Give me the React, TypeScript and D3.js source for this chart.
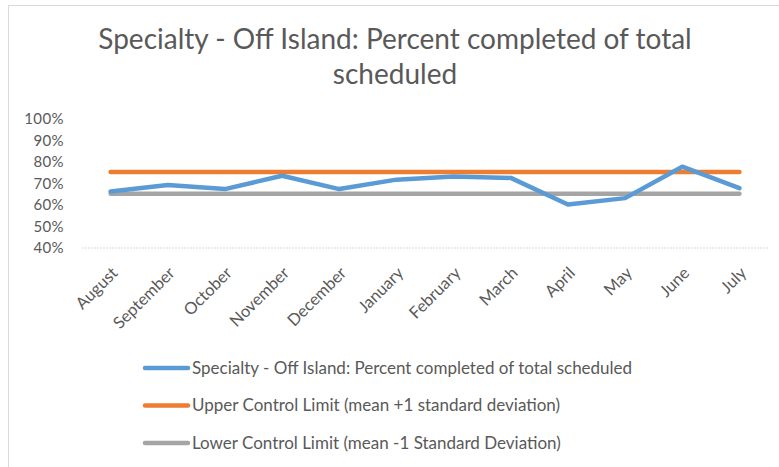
import React from 'react';
import * as d3 from 'd3';

const months = ['August', 'September', 'October', 'November', 'December', 'January', 'February', 'March', 'April', 'May', 'June', 'July'];
const completed = [66.3, 69.3, 67.4, 73.6, 67.4, 71.8, 73.2, 72.6, 60.2, 63.2, 77.8, 67.8];
const upperLimit = [75.3, 75.3, 75.3, 75.3, 75.3, 75.3, 75.3, 75.3, 75.3, 75.3, 75.3, 75.3];
const lowerLimit = [65.2, 65.2, 65.2, 65.2, 65.2, 65.2, 65.2, 65.2, 65.2, 65.2, 65.2, 65.2];
const yTicks = [40, 50, 60, 70, 80, 90, 100];
const seriesNames = [
  'Specialty - Off Island: Percent completed of total scheduled',
  'Upper Control Limit (mean +1 standard deviation)',
  'Lower Control Limit (mean -1 Standard Deviation)',
];

const App = () => {
  const width = 779;
  const height = 467;
  const font = 'Lato, "Open Sans", sans-serif';
  const textGrey = '#595959';
  const blue = '#5B9BD5';
  const orange = '#ED7D31';
  const grey = '#A5A5A5';
  const margin = { top: 119, right: 11, bottom: 219, left: 82 };

  const xScale = d3
    .scaleBand()
    .domain(months)
    .range([margin.left, width - margin.right]);

  const yScale = d3
    .scaleLinear()
    .domain([40, 100])
    .range([height - margin.bottom, margin.top]);

  const line = d3
    .line<number>()
    .x((d, i) => (xScale(months[i]) as number) + xScale.bandwidth() / 2)
    .y(d => yScale(d));

  const series = [
    { values: completed, color: blue },
    { values: upperLimit, color: orange },
    { values: lowerLimit, color: grey },
  ];

  return (
    <svg width={width} height={height} style={{ position: 'absolute', left: 0, top: 0 }}>
      <rect x={8.5} y={5.5} width={width} height={height} fill='#fff' stroke='#d9d9d9' />
      <text x={395} y={49} textAnchor='middle' fontFamily={font} fontSize={28} fill={textGrey}>
        Specialty - Off Island: Percent completed of total
      </text>
      <text x={395} y={84} textAnchor='middle' fontFamily={font} fontSize={28} fill={textGrey}>
        scheduled
      </text>

      <line
        x1={margin.left}
        x2={width - margin.right}
        y1={yScale(40)}
        y2={yScale(40)}
        stroke='#d9d9d9'
        strokeDasharray='2,1'
      />
      {yTicks.map(t => (
        <text
          key={`y-${t}`}
          x={64}
          y={yScale(t)}
          dy='0.35em'
          textAnchor='end'
          fontFamily={font}
          fontSize={15}
          letterSpacing={0.4}
          fill={textGrey}
        >
          {`${t}%`}
        </text>
      ))}
      {months.map(m => {
        const x = (xScale(m) as number) + xScale.bandwidth() / 2;
        const y = yScale(40) + 22;
        return (
          <text
            key={`x-${m}`}
            transform={`translate(${x + 4}, ${y}) rotate(-45)`}
            textAnchor='end'
            dy='0.35em'
            fontFamily={font}
            fontSize={16.5}
            fill={textGrey}
          >
            {m}
          </text>
        );
      })}

      {series
        .slice()
        .reverse()
        .map((s, i) => (
          <path
            key={`line-${i}`}
            d={line(s.values) as string}
            fill='none'
            stroke={s.color}
            strokeWidth={4.5}
            strokeLinejoin='round'
            strokeLinecap='round'
          />
        ))}

      {series.map((s, i) => {
        const y = 368 + i * 37.5;
        return (
          <g key={`legend-${i}`}>
            <line x1={145} x2={188} y1={y} y2={y} stroke={s.color} strokeWidth={4.5} strokeLinecap='round' />
            <text x={192} y={y} dy='0.35em' fontFamily={font} fontSize={17} fill={textGrey}>
              {seriesNames[i]}
            </text>
          </g>
        );
      })}
    </svg>
  );
};

export default App;
